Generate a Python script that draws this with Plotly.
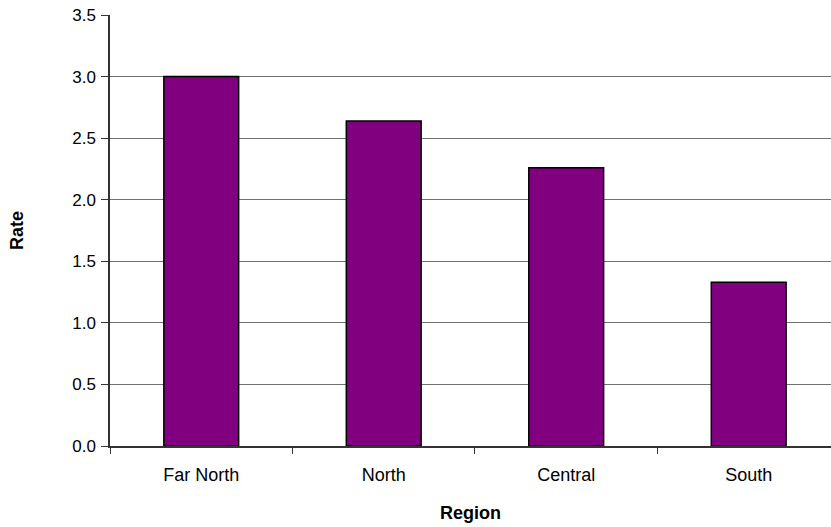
import plotly.graph_objects as go

regions = ["Far North", "North", "Central", "South"]
rates = [3.00, 2.64, 2.26, 1.33]
y_ticks = [0.0, 0.5, 1.0, 1.5, 2.0, 2.5, 3.0, 3.5]

fig = go.Figure(
    go.Bar(
        x=regions,
        y=rates,
        marker=dict(color="#800080", line=dict(color="#000000", width=1.5)),
        width=0.41,
    )
)

font = "Liberation Sans, Arial, sans-serif"

fig.update_layout(
    width=831,
    height=527,
    margin=dict(l=110, r=0, t=15, b=81),
    paper_bgcolor="white",
    plot_bgcolor="white",
    showlegend=False,
    font=dict(family=font, size=17, color="#000000"),
    xaxis=dict(
        range=[-0.5, 3.451],
        showgrid=False,
        showline=True,
        linecolor="#333333",
        linewidth=1.5,
        ticks="outside",
        tickson="boundaries",
        ticklen=6,
        tickcolor="#333333",
        tickfont=dict(size=18),
        ticklabelstandoff=12,
        title=dict(text="<b>Region</b>", font=dict(size=18), standoff=22),
    ),
    yaxis=dict(
        range=[0, 3.5],
        tickvals=y_ticks,
        ticktext=[f"{v:.1f}" for v in y_ticks],
        showgrid=True,
        gridcolor="#707070",
        gridwidth=1,
        showline=True,
        linecolor="#333333",
        linewidth=1.5,
        ticks="outside",
        ticklen=7,
        tickcolor="#333333",
        tickfont=dict(size=17),
        ticklabelstandoff=2,
        zeroline=False,
        title=dict(text="<b>Rate</b>", font=dict(size=18), standoff=44),
    ),
)

fig.write_html("out.html")
